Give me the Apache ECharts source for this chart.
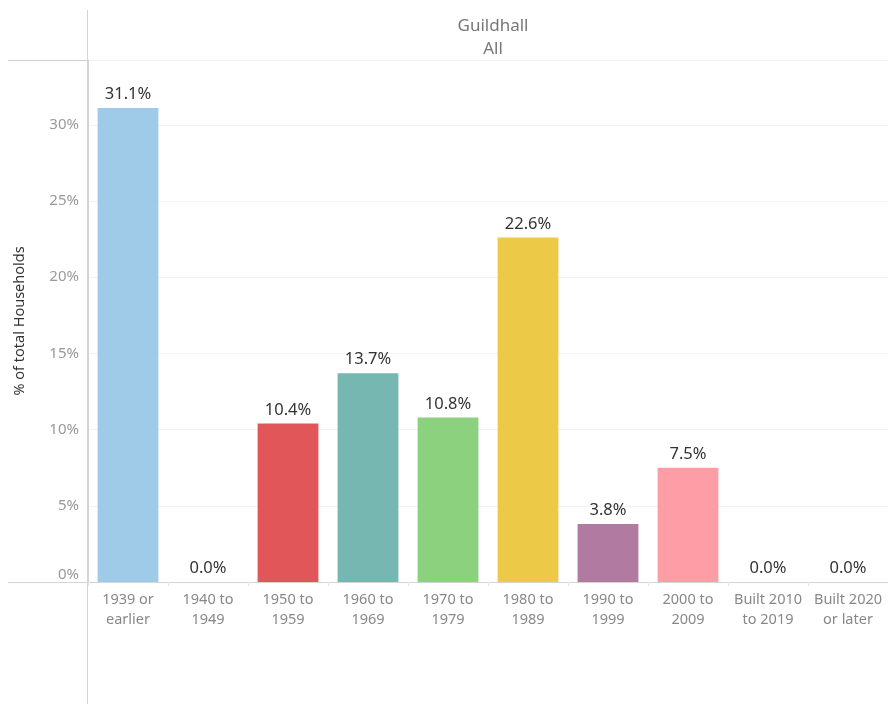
<!DOCTYPE html>
<html>
<head>
<meta charset="utf-8">
<script src="https://cdn.jsdelivr.net/npm/echarts@6/dist/echarts.min.js"></script>
<style>
  body { margin: 0; padding: 0; background: #fff; }
  #chart { width: 888px; height: 704px; }
</style>
</head>
<body>
<div id="chart"></div>
<script>
const categories = ['1939 or\nearlier', '1940 to\n1949', '1950 to\n1959', '1960 to\n1969', '1970 to\n1979',
  '1980 to\n1989', '1990 to\n1999', '2000 to\n2009', 'Built 2010\nto 2019', 'Built 2020\nor later'];
const shares = [31.1, 0.0, 10.4, 13.7, 10.8, 22.6, 3.8, 7.5, 0.0, 0.0];
const barColors = ['#a0cbe8', '#a0cbe8', '#e15759', '#76b7b2', '#8cd17d', '#edc948', '#b07aa1', '#ff9da7', '#bab0ac', '#bab0ac'];
const header = ['Guildhall', 'All'];

const font = '"Noto Sans", "Open Sans", sans-serif';
const chart = echarts.init(document.getElementById('chart'));

chart.setOption({
  animation: false,
  textStyle: { fontFamily: font },
  title: {
    text: header.join('\n'),
    left: 488,
    top: 10,
    textAlign: 'center',
    textStyle: { fontFamily: font, fontSize: 17, fontWeight: 'normal', color: '#777', lineHeight: 23 }
  },
  grid: { left: 88, right: 0, top: 60, bottom: 122 },
  xAxis: {
    type: 'category',
    data: categories,
    axisLine: { lineStyle: { color: '#d4d4d4', width: 1 } },
    axisTick: { show: true, length: 4, lineStyle: { color: '#e6e6e6' } },
    axisLabel: { color: '#888', fontSize: 14.5, lineHeight: 20, margin: 8, fontFamily: font, interval: 0 }
  },
  yAxis: {
    type: 'value',
    min: 0,
    max: 34.25,
    interval: 5,
    name: '% of total Households',
    nameLocation: 'middle',
    nameGap: 61,
    nameTextStyle: { color: '#333', fontSize: 14.5, fontFamily: font },
    axisLine: { show: true, lineStyle: { color: '#d4d4d4' } },
    axisTick: { show: false },
    axisLabel: {
      color: '#999', fontSize: 15, margin: 9, showMaxLabel: false, fontFamily: font,
      verticalAlignMinLabel: 'bottom', formatter: '{value}%'
    },
    splitLine: { lineStyle: { color: '#f2f2f2' } }
  },
  graphic: [
    { type: 'line', shape: { x1: 87.5, y1: 10, x2: 87.5, y2: 704 }, style: { stroke: '#d4d4d4', lineWidth: 1 } },
    { type: 'line', shape: { x1: 8, y1: 60.5, x2: 888, y2: 60.5 }, style: { stroke: '#cfcfcf', lineWidth: 1 } },
    { type: 'line', shape: { x1: 8, y1: 582.5, x2: 88, y2: 582.5 }, style: { stroke: '#d4d4d4', lineWidth: 1 } }
  ],
  series: [{
    type: 'bar',
    barWidth: '76%',
    data: shares.map((v, i) => ({ value: v, itemStyle: { color: barColors[i] } })),
    label: {
      show: true,
      position: 'top',
      distance: 5,
      color: '#333',
      fontSize: 16.5,
      fontFamily: font,
      formatter: p => p.value.toFixed(1) + '%'
    }
  }]
});
</script>
</body>
</html>
